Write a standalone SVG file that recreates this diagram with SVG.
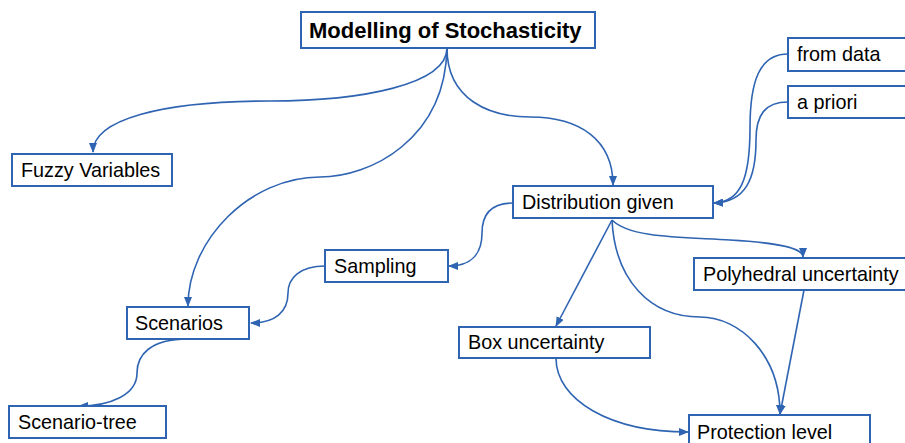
<svg xmlns="http://www.w3.org/2000/svg" width="905" height="443" viewBox="0 0 905 443">
<style>
.box{fill:#fff;stroke:#2F64B2;stroke-width:2}
.t{font-family:"Liberation Sans",Arial,sans-serif;font-size:19.8px;fill:#000}
.tb{font-family:"Liberation Sans",Arial,sans-serif;font-size:22px;font-weight:bold;fill:#000}
.c{fill:none;stroke:#2F64B2;stroke-width:1.6;marker-end:url(#ah)}
</style>
<defs>
<marker id="ah" markerUnits="userSpaceOnUse" markerWidth="10" markerHeight="8" viewBox="0 0 10 8" refX="9" refY="4" orient="auto">
<path d="M0,0 L10,4 L0,8 Z" fill="#2F64B2"/>
</marker>
</defs>
<rect width="905" height="443" fill="#fff"/>
<g id="connectors">
<path class="c" d="M447,48 C447,85 360,101 270,101 C160,101 93,120 93,152"/>
<path class="c" d="M447,48 C445,140 370,177 320,177 C250,177 188,240 188,306"/>
<path class="c" d="M447,48 C447,100 490,117 530,117 C580,117 613,140 613,185"/>
<path class="c" d="M788,54 C760,54 750,80 750,128 C750,180 740,202 714,203"/>
<path class="c" d="M788,102 C765,102 756,115 756,140 C756,180 745,202 714,203"/>
<path class="c" d="M513,203 C490,203 482,215 482,233 C482,255 470,266 449,266"/>
<path class="c" d="M325,266 C300,266 288,278 288,293 C288,312 275,323 251,323"/>
<path class="c" d="M188,339 C150,339 137,355 137,373 C137,395 110,406 79,406"/>
<path class="c" d="M612,220 L556,326"/>
<path class="c" d="M612,220 C630,238 680,237 730,240 C780,243 803,248 803,257"/>
<path class="c" d="M612,220 C615,280 650,317 700,317 C740,317 780,355 780,414"/>
<path class="c" d="M804,290 L780,414"/>
<path class="c" d="M556,358 C556,400 610,432 688,432"/>
</g>
<g id="n-title"><rect class="box" x="301" y="12" width="294" height="36"/><text class="tb" x="309" y="38">Modelling of Stochasticity</text></g>
<g id="n-fuzzy"><rect class="box" x="12" y="154" width="160" height="32"/><text class="t" x="21" y="177">Fuzzy Variables</text></g>
<g id="n-fromdata"><rect class="box" x="788" y="38" width="125" height="33"/><text class="t" x="797" y="61">from data</text></g>
<g id="n-apriori"><rect class="box" x="788" y="86" width="125" height="32"/><text class="t" x="797" y="109">a priori</text></g>
<g id="n-dist"><rect class="box" x="513" y="186" width="200" height="32"/><text class="t" x="522" y="209">Distribution given</text></g>
<g id="n-sampling"><rect class="box" x="325" y="250" width="123" height="32"/><text class="t" x="334" y="273">Sampling</text></g>
<g id="n-poly"><rect class="box" x="694" y="258" width="215" height="32"/><text class="t" x="703" y="281">Polyhedral uncertainty</text></g>
<g id="n-scenarios"><rect class="box" x="127" y="307" width="122" height="32"/><text class="t" x="135" y="330">Scenarios</text></g>
<g id="n-box"><rect class="box" x="459" y="327" width="191" height="31"/><text class="t" x="468" y="349">Box uncertainty</text></g>
<g id="n-tree"><rect class="box" x="9" y="406" width="157" height="32"/><text class="t" x="18" y="429">Scenario-tree</text></g>
<g id="n-protect"><rect class="box" x="689" y="415" width="181" height="40"/><text class="t" x="697" y="439">Protection level</text></g>
</svg>
